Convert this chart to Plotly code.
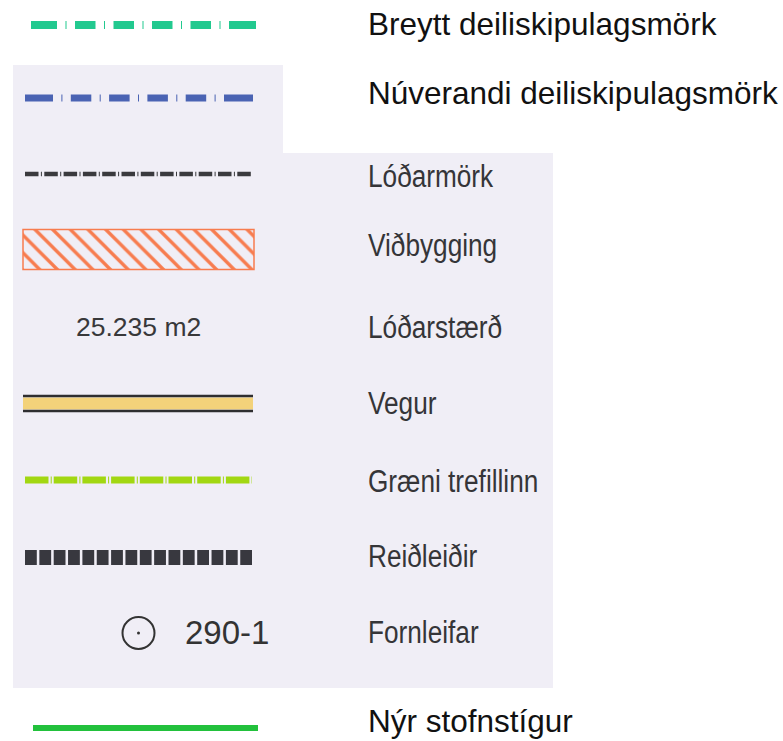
import plotly.graph_objects as go

# ---- data ----
labels = [
    "Breytt deiliskipulagsmörk",
    "Núverandi deiliskipulagsmörk",
    "Lóðarmörk",
    "Viðbygging",
    "Lóðarstærð",
    "Vegur",
    "Græni trefillinn",
    "Reiðleiðir",
    "Fornleifar",
    "Nýr stofnstígur",
]
label_narrow = [False, False, True, True, True, True, True, True, True, False]
area_text = "25.235 m2"
site_id = "290-1"

# ---- layout helpers ----
W, H = 783, 741
row_y = [24, 92.5, 176, 245.5, 327, 403, 481, 556, 632, 720.5]
sym_y = [25, 98, 174, 249.5, 327, 403.5, 480, 557.5, 633, 728]

LAV = "#f0eef6"
fig = go.Figure()

def line(xa, xb, y, color, width, dash="solid"):
    fig.add_trace(go.Scatter(x=[xa, xb], y=[y, y], mode="lines",
                             line=dict(color=color, width=width, dash=dash),
                             hoverinfo="skip", showlegend=False))

# row 1: Breytt (teal dashes with ticks)
d1 = ["26px"] + sum([["8.5px", "1px", "8.5px", "20.5px"] for _ in range(4)], []) + ["8.5px", "1px", "8.5px", "27px", "200px"]
line(31, 256, sym_y[0], "#22c98f", 8, ",".join(d1))
# row 2: Núverandi (blue dashes with ticks)
d2 = ["28px"] + sum([["8.4px", "1px", "8.4px", "20.5px"] for _ in range(4)], []) + ["8.4px", "1px", "8.4px", "29px", "200px"]
line(25, 253, sym_y[1], "#4a63b3", 7, ",".join(d2))
# row 3: Lóðarmörk
line(25, 251, sym_y[2], "#3a3a3e", 4.5, "13.5px,2.4px,1px,2.4px")
# row 4: Viðbygging hatched rectangle
fig.add_trace(go.Bar(orientation="h", y=[sym_y[3]], x=[231], base=[23], width=[40],
                     marker=dict(color="#f77c4f", line=dict(color="#f77c4f", width=1.5),
                                 pattern=dict(shape="\\", size=12.5, solidity=0.27, fgopacity=1,
                                              fgcolor="#f77c4f", bgcolor="rgba(0,0,0,0)")),
                     hoverinfo="skip", showlegend=False))
# row 6: Vegur
line(23, 253, sym_y[5], "#f3d27a", 12)
line(23, 253, sym_y[5] - 7.5, "#2e2e30", 2.5)
line(23, 253, sym_y[5] + 7.5, "#2e2e30", 2.5)
# row 7: Græni trefillinn
line(25, 252, sym_y[6], "#a2d712", 7, "23.5px,2.2px,1px,2px")
# row 8: Reiðleiðir
line(25, 252, sym_y[7], "#38383f", 15, "11.8px,2.55px")
# row 9: Fornleifar symbol
fig.add_trace(go.Scatter(x=[138.5], y=[sym_y[8]], mode="markers",
                         marker=dict(symbol="circle-open", size=32, color="#333333", line=dict(width=2)),
                         hoverinfo="skip", showlegend=False))
fig.add_trace(go.Scatter(x=[138.5], y=[sym_y[8]], mode="markers",
                         marker=dict(symbol="circle", size=3, color="#333333"),
                         hoverinfo="skip", showlegend=False))
# row 10: Nýr stofnstígur
line(33, 258, sym_y[9], "#22c13c", 6)

# background panels
shapes = [
    dict(type="rect", xref="x", yref="y", x0=13, x1=283, y0=65, y1=153, fillcolor=LAV, line=dict(width=0), layer="below"),
    dict(type="rect", xref="x", yref="y", x0=13, x1=553, y0=153, y1=688, fillcolor=LAV, line=dict(width=0), layer="below"),
]

annotations = []
for lab, narrow, y in zip(labels, label_narrow, row_y):
    if narrow:
        font = dict(family="Liberation Sans, Arial", size=31, color="#353538")
    else:
        font = dict(family="Liberation Sans, Arial, Helvetica", size=31.5, color="#111111")
    annotations.append(dict(x=366, y=y, xref="x", yref="y", text=lab, showarrow=False,
                            xanchor="left", yanchor="middle", align="left", font=font))
annotations.append(dict(x=138, y=row_y[4], xref="x", yref="y", text=area_text, showarrow=False,
                        xanchor="center", yanchor="middle",
                        font=dict(family="Liberation Sans, Arial", size=26.5, color="#38383a")))
annotations.append(dict(x=183, y=row_y[8], xref="x", yref="y", text=site_id, showarrow=False,
                        xanchor="left", yanchor="middle",
                        font=dict(family="Liberation Sans, Arial", size=33, color="#333333")))

fig.update_layout(
    width=W, height=H, margin=dict(l=0, r=0, t=0, b=0),
    paper_bgcolor="white", plot_bgcolor="white",
    xaxis=dict(range=[0, W], visible=False, fixedrange=True),
    yaxis=dict(range=[H, 0], visible=False, fixedrange=True),
    shapes=shapes, annotations=annotations, showlegend=False,
    bargap=0,
)

narrow_js = "[" + ",".join('"%s"' % l for l, n in zip(labels, label_narrow) if n) + "]"
post = """
document.body.style.margin='0';
document.body.style.padding='0';
var narrow = %s;
document.querySelectorAll('text.annotation-text').forEach(function(t){
  if (narrow.indexOf(t.textContent) >= 0) {
    var L = t.getComputedTextLength();
    t.setAttribute('textLength', (L*0.845).toFixed(1));
    t.setAttribute('lengthAdjust', 'spacingAndGlyphs');
  }
});
""" % narrow_js
fig.write_html("out.html", post_script=post, config={"displayModeBar": False, "staticPlot": True})
